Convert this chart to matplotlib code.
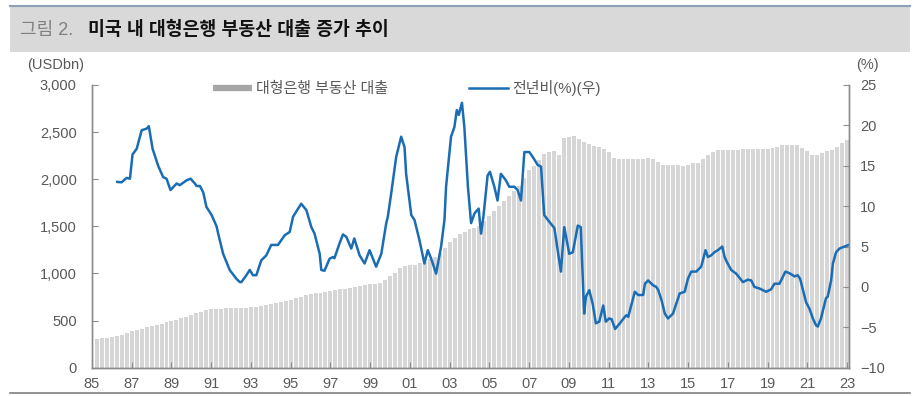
import numpy as np
import matplotlib
matplotlib.use('Agg')
import matplotlib.pyplot as plt
from matplotlib.lines import Line2D
from matplotlib.patches import Rectangle
from matplotlib.ticker import FuncFormatter

plt.rcParams['font.family'] = ['Liberation Sans', 'Noto Sans CJK KR', 'DejaVu Sans']

# 대형은행 부동산 대출 (USDbn), quarterly from 1985 Q2 to 2023 Q1
loan_start = 1985.25
loans = [
    305, 312, 320,
    330, 340, 352, 368,        # 86
    385, 398, 412, 428,        # 87
    442, 455, 468, 480,        # 88
    495, 510, 525, 540,        # 89
    560, 578, 595, 612,        # 90
    622, 626, 628, 630,        # 91
    632, 634, 636, 638,        # 92
    642, 648, 655, 665,        # 93
    675, 684, 693, 705,        # 94
    718, 735, 752, 768,        # 95
    780, 788, 795, 802,        # 96
    810, 820, 830, 840,        # 97
    850, 858, 866, 875,        # 98
    885, 893, 902, 930,        # 99
    968, 1010, 1058, 1075,     # 00
    1085, 1095, 1108, 1125,    # 01
    1150, 1180, 1220, 1275,    # 02
    1330, 1375, 1415, 1445,    # 03
    1470, 1485, 1500, 1555,    # 04
    1610, 1665, 1715, 1768,    # 05
    1820, 1875, 1930, 2010,    # 06
    2100, 2140, 2205, 2268,    # 07
    2290, 2300, 2257, 2435,    # 08
    2445, 2459, 2430, 2400,    # 09
    2370, 2355, 2345, 2318,    # 10
    2292, 2230, 2215, 2211,    # 11
    2211, 2211, 2211, 2215,    # 12
    2225, 2210, 2180, 2155,    # 13
    2151, 2150, 2148, 2140,    # 14
    2150, 2176, 2176, 2210,    # 15
    2257, 2285, 2310, 2310,    # 16
    2312, 2314, 2315, 2316,    # 17
    2316, 2317, 2317, 2318,    # 18
    2320, 2330, 2345, 2362,    # 19
    2363, 2363, 2360, 2330,    # 20
    2300, 2257, 2257, 2275,    # 21
    2295, 2310, 2345, 2381,    # 22
    2416,                      # 23
]

# 전년비 (%)
yoy_year = [
    1986.27, 1986.49, 1986.74, 1986.91, 1987.04, 1987.25, 1987.50, 1987.75, 1987.86, 1988.05,
    1988.33, 1988.58, 1988.75, 1988.95, 1989.26, 1989.42, 1989.76, 1989.96, 1990.18, 1990.26,
    1990.43, 1990.60, 1990.76, 1991.02, 1991.27, 1991.35, 1991.60, 1991.93, 1992.27, 1992.44,
    1992.52, 1992.77, 1992.94, 1993.10, 1993.27, 1993.52, 1993.77, 1994.02, 1994.36, 1994.70,
    1994.95, 1995.12, 1995.53, 1995.79, 1996.04, 1996.20, 1996.46, 1996.54, 1996.70, 1996.96,
    1997.13, 1997.20, 1997.46, 1997.63, 1997.80, 1998.05, 1998.20, 1998.47, 1998.72, 1998.97,
    1999.30, 1999.56, 1999.81, 1999.89, 2000.06, 2000.31, 2000.56, 2000.73, 2000.81, 2001.07,
    2001.23, 2001.48, 2001.73, 2001.90, 2002.07, 2002.32, 2002.57, 2002.74, 2002.82, 2003.07,
    2003.24, 2003.36, 2003.46, 2003.62, 2003.74, 2003.92, 2004.08, 2004.25, 2004.46, 2004.58,
    2004.70, 2004.91, 2005.03, 2005.25, 2005.41, 2005.58, 2005.83, 2006.00, 2006.26, 2006.42,
    2006.59, 2006.76, 2007.01, 2007.18, 2007.43, 2007.60, 2007.76, 2008.02, 2008.27, 2008.60,
    2008.77, 2009.02, 2009.20, 2009.45, 2009.60, 2009.77, 2009.86, 2010.03, 2010.20, 2010.36,
    2010.53, 2010.73, 2010.86, 2011.03, 2011.15, 2011.33, 2011.57, 2011.82, 2011.90, 2011.99,
    2012.32, 2012.49, 2012.74, 2012.83, 2012.99, 2013.24, 2013.40, 2013.50, 2013.66, 2013.83,
    2013.99, 2014.24, 2014.58, 2014.83, 2014.99, 2015.16, 2015.41, 2015.66, 2015.88, 2016.00,
    2016.16, 2016.33, 2016.50, 2016.72, 2016.84, 2016.95, 2017.17, 2017.42, 2017.76, 2018.01,
    2018.18, 2018.34, 2018.60, 2018.93, 2019.18, 2019.35, 2019.60, 2019.90, 2020.10, 2020.27,
    2020.36, 2020.52, 2020.64, 2020.94, 2021.11, 2021.28, 2021.44, 2021.53, 2021.69, 2021.94,
    2022.03, 2022.20, 2022.29, 2022.45, 2022.62, 2022.87, 2023.09,
]
yoy = [
    13.0, 12.95, 13.5, 13.4, 16.4, 17.1, 19.4, 19.6, 19.9, 17.1,
    15.0, 13.6, 13.4, 12.0, 12.8, 12.6, 13.2, 13.4, 12.8, 12.5,
    12.5, 11.7, 9.9, 8.9, 7.5, 6.6, 4.1, 2.1, 1.0, 0.6,
    0.6, 1.45, 2.1, 1.45, 1.45, 3.3, 3.9, 5.2, 5.2, 6.4,
    6.8, 8.7, 10.3, 9.5, 7.4, 6.6, 4.1, 2.1, 2.0, 3.5,
    3.7, 3.55, 5.4, 6.5, 6.2, 4.75, 6.0, 3.9, 2.9, 4.55,
    2.5, 4.1, 7.9, 8.7, 11.6, 16.1, 18.6, 17.3, 14.0, 8.9,
    8.3, 5.8, 2.9, 4.55, 3.5, 1.65, 5.0, 8.3, 12.4, 18.6,
    19.8, 21.9, 21.3, 22.8, 19.8, 12.4, 7.9, 9.1, 9.7, 6.6,
    8.7, 13.8, 14.25, 12.4, 10.7, 14.0, 13.2, 12.4, 12.4, 12.0,
    10.7, 16.7, 16.7, 16.1, 15.1, 14.9, 8.9, 8.05, 7.3, 1.9,
    7.4, 4.1, 4.3, 7.6, 7.4, -3.3, -1.2, -0.4, -2.1, -4.5,
    -4.3, -2.3, -4.3, -3.9, -4.0, -5.2, -4.5, -3.7, -3.5, -3.7,
    -0.6, -1.0, -1.0, 0.4, 0.8, 0.2, 0.0, -0.4, -1.6, -3.3,
    -3.9, -3.3, -0.8, -0.6, 1.0, 1.9, 1.9, 2.5, 4.55, 3.7,
    3.9, 4.3, 4.55, 5.0, 3.7, 3.1, 2.1, 1.65, 0.6, 0.9,
    0.8, 0.0, -0.2, -0.6, -0.3, 0.4, 0.4, 1.9, 1.7, 1.45,
    1.3, 1.45, 1.0, -1.9, -2.7, -3.9, -4.75, -4.9, -3.9, -1.4,
    -1.2, 0.8, 2.9, 4.3, 4.75, 5.0, 5.2,
]

tick_years = list(range(1985, 2024, 2))

grey_txt = '#595959'
spine_col = '#8c8c8c'
blue = '#1a6db4'

fig = plt.figure(figsize=(9.24, 3.96), dpi=100)

# header band
fig.patches.append(Rectangle((10 / 924, 1 - 52 / 396), 900 / 924, 46 / 396,
                             transform=fig.transFigure, facecolor='#d9d9d9', edgecolor='none'))
fig.lines.append(Line2D([10 / 924, 910 / 924], [1 - 6 / 396] * 2, transform=fig.transFigure,
                        color='#8ea0b8', lw=1.5))
fig.lines.append(Line2D([10 / 924, 910 / 924], [1 - 393 / 396] * 2, transform=fig.transFigure,
                        color='#7f7f7f', lw=1.2))
fig.text(20 / 924, 1 - 30 / 396, '그림 2.', fontsize=13, color='#808080', va='center')
fig.text(88 / 924, 1 - 30 / 396, '미국 내 대형은행 부동산 대출 증가 추이', fontsize=13.2,
         fontweight='bold', color='#111111', va='center')

ax = fig.add_axes([92 / 924, 1 - 367.7 / 396, 757 / 924, 282.7 / 396])
ax2 = ax.twinx()

x_loans = loan_start + 0.25 * np.arange(len(loans))
ax.bar(x_loans, loans, width=0.2, color='#d6d6d6', linewidth=0, align='center')
ax2.plot(yoy_year, yoy, color=blue, lw=1.8)

ax.set_xlim(1985, 2023.1)
ax.set_ylim(0, 3000)
ax2.set_ylim(-10, 25)
ax.set_yticks(range(0, 3001, 500))
ax2.set_yticks(range(-10, 26, 5))
ax.yaxis.set_major_formatter(FuncFormatter(lambda v, p: f'{int(v):,}'))
ax.set_xticks(tick_years)
ax.set_xticklabels([f'{y % 100:02d}' for y in tick_years])

for a in (ax, ax2):
    a.spines['top'].set_visible(False)
    for s in ('left', 'right', 'bottom'):
        a.spines[s].set_color(spine_col)
        a.spines[s].set_linewidth(1.0)
ax.tick_params(axis='both', direction='in', length=4, color=spine_col, labelsize=10.5,
               labelcolor=grey_txt)
ax.tick_params(axis='y', pad=11)
ax.tick_params(axis='x', pad=7)
ax2.tick_params(axis='y', direction='in', length=4, color=spine_col, labelsize=10.5,
                labelcolor=grey_txt, pad=8)

fig.text(56 / 924, 1 - 65.5 / 396, '(USDbn)', fontsize=10.5, color=grey_txt, ha='center', va='center')
fig.text(867 / 924, 1 - 65 / 396, '(%)', fontsize=10.5, color=grey_txt, ha='center', va='center')

handles = [Line2D([], [], color='#a6a6a6', lw=4.5, solid_capstyle='butt'),
           Line2D([], [], color=blue, lw=1.8)]
fig.legend(handles, ['대형은행 부동산 대출', '전년비(%)(우)'], loc='center left',
           bbox_to_anchor=(213 / 924, 1 - 88 / 396), ncol=2, frameon=False,
           fontsize=10.8, labelcolor=grey_txt, handlelength=2.6, handletextpad=0.27,
           columnspacing=5.4, borderaxespad=0, borderpad=0)

fig.savefig('out.png', dpi=100)
